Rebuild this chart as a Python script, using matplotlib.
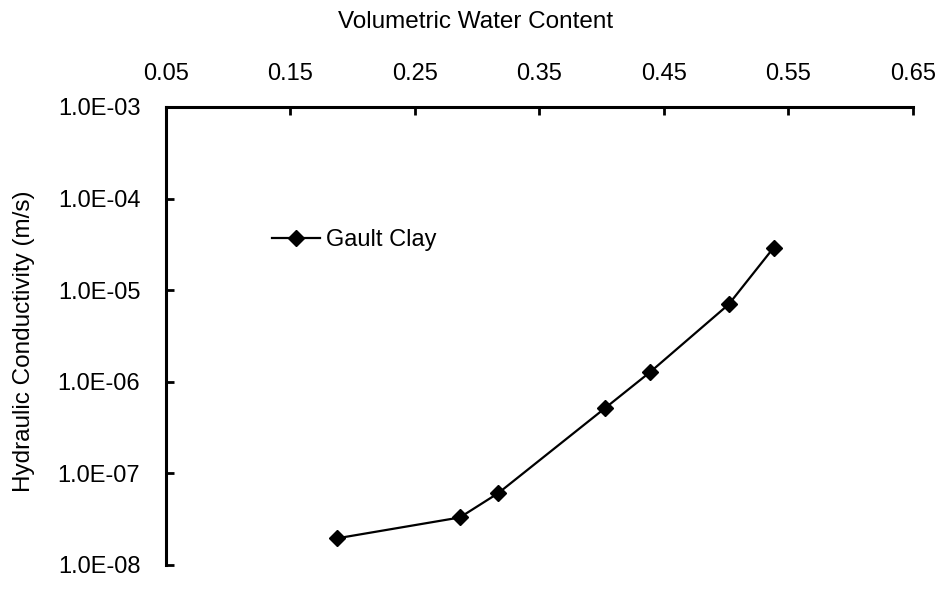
import numpy as np
import matplotlib.pyplot as plt
from matplotlib.ticker import FixedLocator, NullLocator, FuncFormatter

plt.rcParams['font.family'] = ['Liberation Sans', 'DejaVu Sans']

# Gault Clay data
water_content = [0.187, 0.286, 0.317, 0.403, 0.439, 0.502, 0.538]
conductivity = [1.95e-8, 3.3e-8, 6.1e-8, 5.2e-7, 1.28e-6, 7.0e-6, 2.9e-5]

x_ticks = [0.05, 0.15, 0.25, 0.35, 0.45, 0.55, 0.65]
y_ticks = [1e-8, 1e-7, 1e-6, 1e-5, 1e-4, 1e-3]

fig = plt.figure(figsize=(9.41, 5.99), dpi=100)
ax = fig.add_axes([0.1764, 0.0568, 0.7938, 0.7646])

ax.plot(water_content, conductivity, color="black", lw=1.6,
        marker="D", markersize=8.5, markerfacecolor="black",
        label="Gault Clay")

ax.set_yscale("log")
ax.set_xlim(0.05, 0.65)
ax.set_ylim(1e-8, 1e-3)

ax.xaxis.set_major_locator(FixedLocator(x_ticks))
ax.xaxis.set_major_formatter(FuncFormatter(lambda v, p: f"{v:.2f}"))
ax.yaxis.set_major_locator(FixedLocator(y_ticks))
ax.yaxis.set_minor_locator(NullLocator())
ax.yaxis.set_major_formatter(FuncFormatter(lambda v, p: f"{v:.1E}"))

ax.xaxis.tick_top()
ax.xaxis.set_label_position("top")
ax.tick_params(axis="x", direction="in", length=6, width=2, labelsize=17, pad=16)
ax.tick_params(axis="y", direction="in", length=6, width=2, labelsize=17, pad=18.5)

for side in ["right", "bottom"]:
    ax.spines[side].set_visible(False)
for side in ["left", "top"]:
    ax.spines[side].set_linewidth(2.2)

ax.set_xlabel("Volumetric Water Content", fontsize=17.5, va="center")
ax.xaxis.set_label_coords(0.414, 1.186)
ax.set_ylabel("Hydraulic Conductivity (m/s)", fontsize=17.5, va="center")
ax.yaxis.set_label_coords(-0.19, 0.489)

ax.legend(loc="center left", bbox_to_anchor=(0.142, 0.71), frameon=False,
          fontsize=17, handlelength=2.05, handletextpad=0.25,
          borderpad=0, borderaxespad=0)

fig.savefig("out.png", dpi=100)
